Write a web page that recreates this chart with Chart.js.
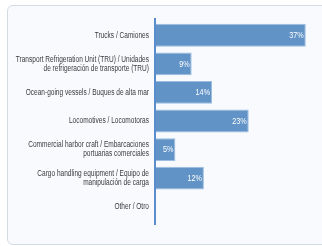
<!DOCTYPE html>
<html>
<head>
<meta charset="utf-8">
<script src="https://cdn.jsdelivr.net/npm/chart.js@4"></script>
<style>
  html, body { margin: 0; padding: 0; background: #fff; }
  .wrap { position: relative; width: 322px; height: 246px; overflow: hidden; }
  .card {
    position: absolute; left: 7px; top: 5px; width: 330px; height: 238px;
    border: 1.5px solid #d3dbe6; border-radius: 6px; background: #f8fafd;
  }
  canvas { position: absolute; left: 0; top: 0; }
</style>
</head>
<body>
<div class="wrap">
  <div class="card"></div>
  <canvas id="chart" width="322" height="246"></canvas>
</div>
<script>
const categories = [
    'Trucks / Camiones',
    ['Transport Refrigeration Unit (TRU) / Unidades', 'de refrigeración de transporte (TRU)'],
    'Ocean-going vessels / Buques de alta mar',
    'Locomotives / Locomotoras',
    ['Commercial harbor craft / Embarcaciones', 'portuarias comerciales'],
    ['Cargo handling equipment / Equipo de', 'manipulación de carga'],
    'Other / Otro'
];
const shares = [37, 9, 14, 23, 5, 12, 0];

const labelFont = "'Liberation Sans', Arial, sans-serif";
const squeeze = 0.77; // the source font is a condensed face

const axisLine = {
    id: 'axisLine',
    afterDatasetsDraw(chart) {
        const { ctx, chartArea } = chart;
        ctx.save();
        ctx.strokeStyle = '#5b8ccc';
        ctx.lineWidth = 2;
        ctx.beginPath();
        ctx.moveTo(chartArea.left, chartArea.top - 3);
        ctx.lineTo(chartArea.left, chartArea.bottom + 4);
        ctx.stroke();
        ctx.restore();
    }
};

// category labels, drawn at the y scale's tick positions in a narrowed font
const condensedTicks = {
    id: 'condensedTicks',
    afterDraw(chart) {
        const { ctx } = chart;
        const y = chart.scales.y;
        const right = chart.chartArea.left - 6;
        ctx.save();
        ctx.fillStyle = '#3a3a3a';
        ctx.font = "8.5px " + labelFont;
        ctx.textAlign = 'right';
        ctx.textBaseline = 'middle';
        categories.forEach((lab, i) => {
            const lines = Array.isArray(lab) ? lab : [lab];
            const cy = y.getPixelForTick(i);
            const lh = 9;
            lines.forEach((t, j) => {
                const ty = cy + (j - (lines.length - 1) / 2) * lh;
                ctx.save();
                ctx.translate(right, ty);
                ctx.scale(squeeze, 1);
                ctx.fillText(t, 0, 0);
                ctx.restore();
            });
        });
        ctx.restore();
    }
};

const valueLabels = {
    id: 'valueLabels',
    afterDatasetsDraw(chart) {
        const { ctx } = chart;
        ctx.save();
        ctx.fillStyle = '#ffffff';
        ctx.font = "8.5px " + labelFont;
        ctx.textAlign = 'right';
        ctx.textBaseline = 'middle';
        chart.getDatasetMeta(0).data.forEach((bar, i) => {
            const v = shares[i];
            if (!v) return;
            ctx.save();
            ctx.translate(bar.x - 2, bar.y + 0.5);
            ctx.scale(0.85, 1);
            ctx.fillText(v + '%', 0, 0);
            ctx.restore();
        });
        ctx.restore();
    }
};

new Chart(document.getElementById('chart'), {
    type: 'bar',
    data: {
        labels: categories,
        datasets: [{
            data: shares,
            backgroundColor: '#6193c6',
            borderColor: '#9dbde0',
            borderWidth: 1,
            borderSkipped: 'left',
            categoryPercentage: 1,
            barPercentage: 0.8
        }]
    },
    options: {
        indexAxis: 'y',
        responsive: false,
        animation: false,
        layout: { padding: { top: 21, bottom: 25, left: 0, right: 4 } },
        scales: {
            x: { display: false, min: 0, max: 40 },
            y: {
                grid: { display: false, drawTicks: false },
                border: { display: false },
                ticks: { display: false },
                afterFit(s) { s.width = 155; }
            }
        },
        plugins: {
            legend: { display: false },
            tooltip: { enabled: false }
        }
    },
    plugins: [axisLine, condensedTicks, valueLabels]
});
</script>
</body>
</html>
